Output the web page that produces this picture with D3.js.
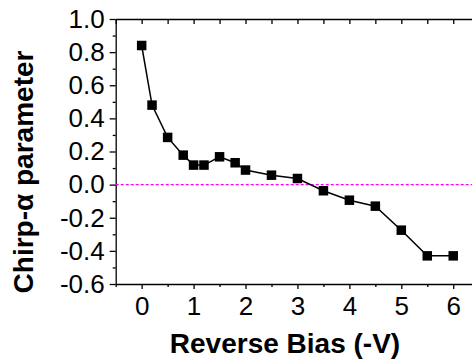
<!DOCTYPE html>
<html>
<head>
<meta charset="utf-8">
<script src="https://cdn.jsdelivr.net/npm/d3@7"></script>
<style>
body { margin: 0; background: #fff; }
svg { display: block; font-family: "Liberation Sans", Arial, sans-serif; }
</style>
</head>
<body>
<script>
var bias = [0, 0.2, 0.5, 0.8, 1.0, 1.2, 1.5, 1.8, 2.0, 2.5, 3.0, 3.5, 4.0, 4.5, 5.0, 5.5, 6.0];
var alpha = [0.84, 0.48, 0.285, 0.178, 0.118, 0.118, 0.168, 0.132, 0.088, 0.057, 0.037, -0.037, -0.094, -0.13, -0.275, -0.43, -0.43];
var xTicks = [0, 1, 2, 3, 4, 5, 6];
var yTicks = [-0.6, -0.4, -0.2, 0.0, 0.2, 0.4, 0.6, 0.8, 1.0];

var W = 472, H = 360;
var svg = d3.select('body').append('svg').attr('width', W).attr('height', H);

var x = d3.scaleLinear().domain([-0.5, 6.5]).range([115.7, 479.2]);
var y = d3.scaleLinear().domain([-0.6, 1.0]).range([284, 19]);

var xMinor = d3.range(-0.5, 6.51, 0.5).filter(d => d % 1 !== 0);
var yMinor = d3.range(-0.5, 1.0, 0.2).map(d => +d.toFixed(1));

// bottom axis
svg.append('g')
	.attr('transform', 'translate(0,284)')
	.call(d3.axisBottom(x).tickValues(xMinor).tickSize(3).tickFormat(''))
	.call(g => g.select('.domain').remove());
var gx = svg.append('g')
	.attr('transform', 'translate(0,284)')
	.call(d3.axisBottom(x).tickValues(xTicks).tickSize(5).tickSizeOuter(0).tickPadding(8).tickFormat(d3.format('d')));
gx.selectAll('text').attr('font-size', 26).attr('fill', '#000').attr('font-family', '"Liberation Sans", Arial, sans-serif');

// top axis
svg.append('g')
	.attr('transform', 'translate(0,19)')
	.call(d3.axisBottom(x).tickValues(xTicks.concat(xMinor)).tickSize(5).tickSizeOuter(0).tickFormat(''));

// left axis
svg.append('g')
	.attr('transform', 'translate(115.7,0)')
	.call(d3.axisLeft(y).tickValues(yMinor).tickSize(3).tickFormat(''))
	.call(g => g.select('.domain').remove());
var gy = svg.append('g')
	.attr('transform', 'translate(115.7,0)')
	.call(d3.axisLeft(y).tickValues(yTicks).tickSize(6).tickSizeOuter(0).tickPadding(5).tickFormat(d3.format('.1f')));
gy.selectAll('text').attr('font-size', 26).attr('fill', '#000').attr('font-family', '"Liberation Sans", Arial, sans-serif')
	.text(d => d3.format('.1f')(d).replace('−', '-'));

svg.selectAll('.domain, .tick line').attr('stroke', '#000').attr('stroke-width', 1.3);

// zero line
svg.append('line')
	.attr('x1', x(-0.5)).attr('x2', W)
	.attr('y1', y(0)).attr('y2', y(0))
	.attr('stroke', '#ff00ff')
	.attr('stroke-width', 1.3)
	.attr('stroke-dasharray', '3,2');

// data line
var line = d3.line().x((d, i) => x(bias[i])).y((d, i) => y(alpha[i]));
svg.append('path')
	.datum(alpha)
	.attr('d', line)
	.attr('fill', 'none')
	.attr('stroke', '#000')
	.attr('stroke-width', 1.5);

var s = 9.5;
svg.selectAll('rect.pt')
	.data(alpha)
	.enter().append('rect')
		.attr('class', 'pt')
		.attr('x', (d, i) => x(bias[i]) - s / 2)
		.attr('y', d => y(d) - s / 2)
		.attr('width', s)
		.attr('height', s)
		.attr('fill', '#000');

// titles
svg.append('text')
	.attr('x', 285)
	.attr('y', 353)
	.attr('text-anchor', 'middle')
	.attr('font-size', 28)
	.attr('font-weight', 'bold')
	.text('Reverse Bias (-V)');

svg.append('text')
	.attr('transform', 'translate(33,172) rotate(-90)')
	.attr('text-anchor', 'middle')
	.attr('font-size', 28)
	.attr('font-weight', 'bold')
	.text('Chirp-α parameter');
</script>
</body>
</html>
